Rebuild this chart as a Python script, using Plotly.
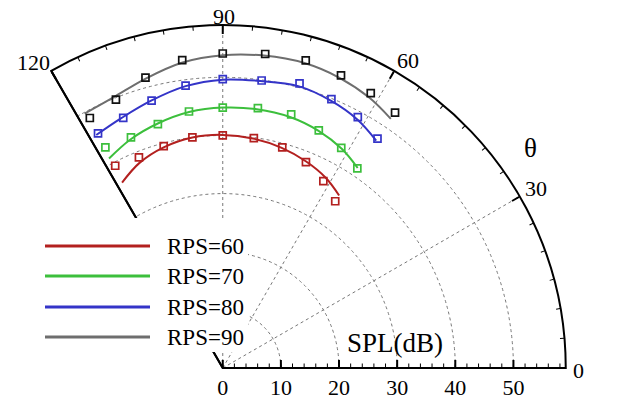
import plotly.graph_objects as go

# ---------------- data ----------------
theta_pts = [118.0, 111.7, 104.9, 97.5, 90.0, 82.3, 74.9, 68.0, 61.7, 56.0]
red_pts   = [39.4, 39.0, 39.5, 40.0, 40.0, 39.9, 39.3, 38.2, 36.5, 34.6]
green_pts = [43.0, 42.7, 43.4, 44.5, 44.8, 45.1, 45.2, 44.1, 43.0, 41.4]
blue_pts  = [45.7, 46.3, 47.6, 49.0, 49.7, 49.9, 50.7, 49.9, 49.0, 47.6]
gray_pts  = [48.7, 49.7, 51.7, 53.4, 54.1, 54.5, 54.8, 54.3, 53.7, 53.0]

theta_fit = [118.5, 112.0, 105.0, 97.5, 90.0, 82.5, 75.0, 68.0, 61.5, 56.0]
red_fit   = [36.3, 38.1, 39.3, 40.0, 40.1, 39.8, 39.2, 38.3, 37.2, 35.8]
green_fit = [41.0, 42.4, 43.5, 44.4, 44.8, 44.9, 44.7, 44.0, 42.9, 41.5]
blue_fit  = [45.6, 46.4, 47.6, 48.9, 49.6, 49.8, 50.2, 49.6, 48.6, 47.2]
gray_fit  = [49.8, 50.2, 51.5, 53.0, 53.8, 54.2, 54.3, 53.8, 52.9, 51.7]

series_names = ["RPS=60", "RPS=70", "RPS=80", "RPS=90"]
line_colors = ["#b3201f", "#3cbf3c", "#3434c8", "#6e6e6e"]
marker_colors = ["#b3201f", "#3cbf3c", "#3434c8", "#111111"]

angular_major = [0, 30, 60, 90, 120]
angular_labels = ["0", "30", "60", "90", "120"]
radial_major = [0, 10, 20, 30, 40, 50]
radial_labels = ["0", "10", "20", "30", "40", "50"]
r_max = 59

W, H = 623, 400
FONT = "Liberation Serif, Times New Roman, serif"

fig = go.Figure()

fits = [red_fit, green_fit, blue_fit, gray_fit]
pts = [red_pts, green_pts, blue_pts, gray_pts]
for name, fit, p, lc, mc in zip(series_names, fits, pts, line_colors, marker_colors):
    fig.add_trace(go.Scatterpolar(r=fit, theta=theta_fit, mode="lines",
                                  line=dict(color=lc, width=2, shape="spline"),
                                  name=name, showlegend=False))
    fig.add_trace(go.Scatterpolar(r=p, theta=theta_pts, mode="markers",
                                  marker=dict(symbol="square-open", size=7, color=mc,
                                              line=dict(width=1.7, color=mc)),
                                  name=name, showlegend=False))

# helper traces for extra overlay subplots
fig.add_trace(go.Scatterpolar(r=[], theta=[], subplot="polar2", showlegend=False))
fig.add_trace(go.Scatterpolar(r=[], theta=[], subplot="polar3", showlegend=False))

dom = dict(x=[51 / W, 566 / W], y=[1 - 368 / H, 1 - 25 / H])
tickfont = dict(family=FONT, size=22, color="black")

fig.update_layout(
    width=W, height=H,
    margin=dict(l=0, r=0, t=0, b=0),
    paper_bgcolor="white",
    showlegend=False,
    polar=dict(
        domain=dom, sector=[0, 120], bgcolor="white",
        angularaxis=dict(rotation=0, direction="counterclockwise",
                         tickvals=angular_major, ticktext=angular_labels,
                         showticklabels=False,
                         ticks="inside", ticklen=8, tickwidth=1.5, tickcolor="black",
                         showline=True, linecolor="black", linewidth=2,
                         showgrid=True, gridcolor="#777777", griddash="dot", gridwidth=1),
        radialaxis=dict(range=[0, r_max], angle=0, side="clockwise",
                        tickvals=radial_major, ticktext=radial_labels,
                        ticks="inside", ticklen=7, tickwidth=1.5, tickcolor="black",
                        showline=True, linecolor="black", linewidth=2,
                        showgrid=True, gridcolor="#777777", griddash="dot", gridwidth=1,
                        tickfont=tickfont, tickangle=0),
    ),
    polar2=dict(
        domain=dom, sector=[0, 120], bgcolor="rgba(0,0,0,0)",
        angularaxis=dict(rotation=0, direction="counterclockwise",
                         tickvals=list(range(0, 121, 5)),
                         ticks="inside", ticklen=4, tickwidth=1, tickcolor="black",
                         showticklabels=False, showline=False, showgrid=False),
        radialaxis=dict(range=[0, r_max], angle=0, side="clockwise",
                        tickvals=list(range(0, 59, 2)),
                        ticks="inside", ticklen=4, tickwidth=1, tickcolor="black",
                        showticklabels=False, showline=False, showgrid=False),
    ),
    polar3=dict(
        domain=dom, sector=[0, 120], bgcolor="rgba(0,0,0,0)",
        angularaxis=dict(visible=False, rotation=0, direction="counterclockwise"),
        radialaxis=dict(range=[0, r_max], angle=120, showline=True,
                        linecolor="black", linewidth=2, ticks="",
                        showticklabels=False, showgrid=False),
    ),
)

# legend box (white) with lines and labels
shapes = [dict(type="rect", xref="paper", yref="paper",
               x0=20 / W, x1=248 / W, y0=1 - 352 / H, y1=1 - 218 / H,
               fillcolor="white", line=dict(width=0), layer="above")]
annotations = []
leg_y = [246, 276, 307, 337]
for name, lc, yy in zip(series_names, line_colors, leg_y):
    shapes.append(dict(type="line", xref="paper", yref="paper",
                       x0=45 / W, x1=150 / W, y0=1 - yy / H, y1=1 - yy / H,
                       line=dict(color=lc, width=3), layer="above"))
    annotations.append(dict(text=name, xref="paper", yref="paper",
                            x=165 / W, y=1 - yy / H, xanchor="left", yanchor="middle",
                            showarrow=False, font=dict(family=FONT, size=23, color="black")))

# angular tick labels as positioned text
ang_label_pos = [(578, 370), (536, 189), (408, 61), (224, 17), (33, 62)]
for lab, (px, py) in zip(angular_labels, ang_label_pos):
    annotations.append(dict(text=lab, xref="paper", yref="paper",
                            x=px / W, y=1 - py / H, xanchor="center", yanchor="middle",
                            showarrow=False, font=tickfont))

annotations.append(dict(text="SPL(dB)", xref="paper", yref="paper",
                        x=395 / W, y=1 - 343 / H, xanchor="center", yanchor="middle",
                        showarrow=False, font=dict(family=FONT, size=27, color="black")))
annotations.append(dict(text="θ", xref="paper", yref="paper",
                        x=530 / W, y=1 - 148 / H, xanchor="center", yanchor="middle",
                        showarrow=False, font=dict(family=FONT, size=27, color="black")))

fig.update_layout(shapes=shapes, annotations=annotations)

fig.write_html("out.html")
